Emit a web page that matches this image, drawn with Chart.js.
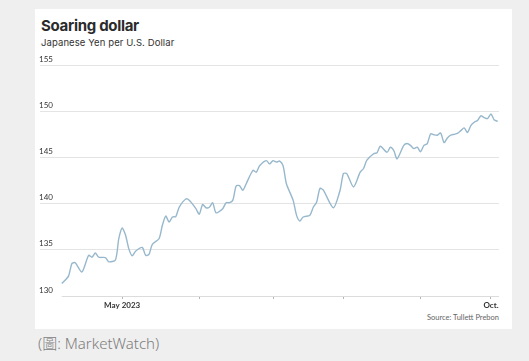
<!DOCTYPE html>
<html>
<head>
<meta charset="utf-8">
<script src="https://cdn.jsdelivr.net/npm/chart.js@4/dist/chart.umd.min.js"></script>
<style>
  html, body { margin: 0; padding: 0; }
  body { width: 529px; height: 361px; background: #efefef; position: relative; overflow: hidden; }
  #card { position: absolute; left: 35px; top: 9px; width: 477px; height: 320px; background: #ffffff; }
  #title { position: absolute; left: 41px; top: 16px; font: 700 15px "Inter", "DejaVu Sans", sans-serif; color: #2b2b2b; letter-spacing: -0.3px; }
  #subtitle { position: absolute; left: 41px; top: 37px; font: 400 9.5px "Inter", "DejaVu Sans", sans-serif; color: #333; letter-spacing: 0.1px; }
  #source { position: absolute; right: 30px; top: 313px; font: 400 7.5px "Lato", sans-serif; color: #666666; }
  #caption { position: absolute; left: 38px; top: 332px; font: 300 15px "Noto Sans", "Noto Sans CJK TC", sans-serif; color: #7d7d7d; }
  #wrap { position: absolute; left: 0; top: 0; width: 529px; height: 361px; }
</style>
</head>
<body>
<div id="card"></div>
<div id="title">Soaring dollar</div>
<div id="subtitle">Japanese Yen per U.S. Dollar</div>
<div id="source">Source: Tullett Prebon</div>
<div id="caption">(圖: MarketWatch)</div>
<div id="wrap"><canvas id="c" width="529" height="361"></canvas></div>
<script>
// business-day index, 0 = May 1 2023
const days = [-18,-16,-15,-14,-12,-10,-9,-8,-7,-5,-4,-2,-1,0,1,2,3,4,6,7,8,9,11,12,13,14,15,16,17,19,20,22,23,24,25,26,27,28,30,31,32,33,34,35,36,37,39,40,41,43,44,45,46,47,48,49,51,52,53,54,56,57,58,59,60,63,65,66,67,69,71,72,73,75,76,77,79,80,81,82,84,85,86,87,88,89,90,91,92,93,94,95,96,97,98,99,100,101,102,103,104,105,106,107,108,109,110,111,112];
const yenPerDollar = [131.35,132.15,133.5,133.6,132.6,134.4,134.2,134.65,134.2,134.15,133.7,133.9,136.2,137.35,136.6,135.1,134.35,134.85,135.25,134.4,134.5,135.6,136.2,137.65,138.65,138.0,138.55,138.6,139.6,140.5,140.35,139.45,138.85,139.9,139.55,139.6,140.1,139.0,139.45,140.1,140.1,140.35,141.9,141.95,141.45,142.15,143.6,143.4,144.1,144.65,144.3,144.65,144.5,144.6,144.1,142.15,140.35,138.75,138.1,138.55,138.75,139.6,140.15,141.65,141.45,139.55,141.45,143.25,143.25,141.8,143.4,143.8,144.7,145.4,145.5,146.2,145.55,146.1,145.75,144.85,146.3,146.5,146.3,145.95,146.1,145.6,146.3,146.5,147.55,147.45,147.4,147.65,146.6,147.1,147.4,147.5,147.6,147.9,148.2,147.7,148.45,148.8,149.0,149.5,149.3,149.2,149.7,149.05,148.9];
const monthTickDays = [0,23,45,66,89,110];
const monthTickLabels = ['May 2023','','','','','Oct.'];
const yTicks = [130,135,140,145,150,155];

const points = days.map((d,i) => ({x: d, y: yenPerDollar[i]}));

const baseline = {
  id: 'baseline',
  beforeDatasetsDraw(chart) {
    const {ctx, scales:{x, y}, chartArea} = chart;
    const yy = Math.round(y.getPixelForValue(yTicks[0])) + 0.5;
    ctx.save();
    ctx.strokeStyle = '#dcdcdc';
    ctx.lineWidth = 1;
    ctx.beginPath();
    ctx.moveTo(x.getPixelForValue(days[0]), yy);
    ctx.lineTo(chartArea.right, yy);
    ctx.stroke();
    ctx.restore();
  }
};

new Chart(document.getElementById('c'), {
  type: 'line',
  data: { datasets: [{
    data: points,
    borderColor: '#97b8cc',
    borderWidth: 1.4,
    pointRadius: 0,
    tension: 0.25,
    fill: false
  }]},
  options: {
    responsive: false,
    animation: false,
    events: [],
    layout: { padding: { left: 40, top: 65, right: 30, bottom: 45 } },
    plugins: { legend: { display: false }, tooltip: { enabled: false } },
    scales: {
      x: {
        type: 'linear',
        min: -24.5,
        max: 112.4,
        afterBuildTicks(s) { s.ticks = monthTickDays.map(v => ({value: v})); },
        afterFit(s) { s.height = 20; },
        border: { display: false },
        grid: { drawOnChartArea: false, drawTicks: true, tickLength: 3, tickColor: '#b5b5b5', lineWidth: 1 },
        ticks: {
          autoSkip: false,
          maxRotation: 0,
          padding: 2,
          color: '#333',
          font: { family: 'Lato', size: 8, weight: '700' },
          callback(v) { const i = monthTickDays.indexOf(v); return i >= 0 ? monthTickLabels[i] : ''; }
        }
      },
      y: {
        min: yTicks[0],
        max: yTicks[yTicks.length-1],
        afterBuildTicks(s) { s.ticks = yTicks.map(v => ({value: v})); },
        afterFit(s) { s.width = 0; },
        border: { display: false },
        grid: {
          drawTicks: false,
          lineWidth: 1,
          color: (c) => c.tick && c.tick.value === yTicks[0] ? 'rgba(0,0,0,0)' : '#e4e4e4'
        },
        ticks: {
          mirror: true,
          padding: -1,
          labelOffset: -6,
          color: '#333',
          font: { family: 'Lato', size: 8 },
          callback(v) { return String(v); }
        }
      }
    }
  },
  plugins: [baseline]
});
</script>
</body>
</html>
